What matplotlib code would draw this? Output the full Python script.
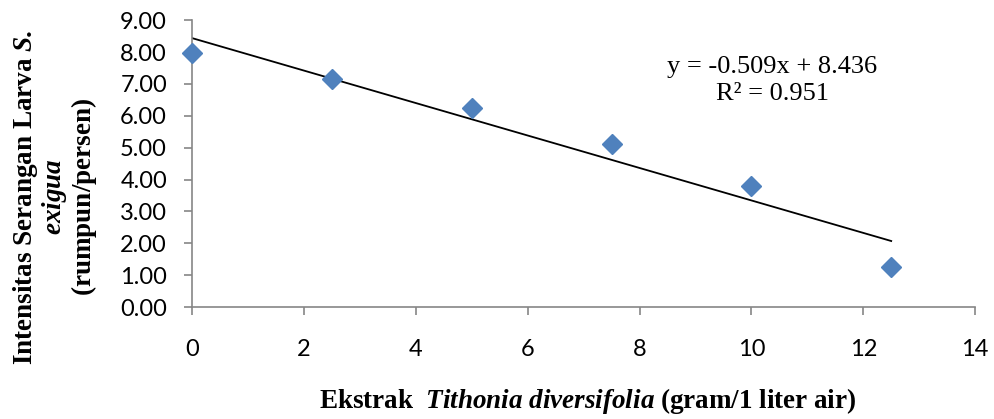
import numpy as np
import matplotlib.pyplot as plt

# Data
ekstrak = [0, 2.5, 5, 7.5, 10, 12.5]
intensitas = [7.96, 7.14, 6.24, 5.11, 3.81, 1.27]
slope = -0.509
intercept = 8.436
r2 = 0.951

plt.rcParams["mathtext.fontset"] = "custom"
plt.rcParams["mathtext.rm"] = "Liberation Serif"
plt.rcParams["mathtext.bf"] = "Liberation Serif:bold"
plt.rcParams["mathtext.it"] = "Liberation Serif:italic"
plt.rcParams["mathtext.bfit"] = "Liberation Serif:bold:italic"

fig = plt.figure(figsize=(9.95, 4.19), dpi=100)
ax = fig.add_axes([0.193, 0.267, 0.787, 0.685])

ax.plot(ekstrak, intensitas, linestyle="none", marker="D", markersize=10,
        color="#4F81BD", zorder=3, clip_on=False)

# Linear trendline
xt = np.array([min(ekstrak), max(ekstrak)])
ax.plot(xt, slope * xt + intercept, color="black", linewidth=1.3, zorder=2)

ax.set_xlim(0, 14)
ax.set_ylim(0, 9)
ax.set_xticks(range(0, 15, 2))
ax.set_yticks(np.arange(0, 9.5, 1))
ax.set_yticklabels([f"{v:.2f}" for v in np.arange(0, 9.5, 1)])

for side in ["top", "right"]:
    ax.spines[side].set_visible(False)
for side in ["left", "bottom"]:
    ax.spines[side].set_color("#868686")
    ax.spines[side].set_linewidth(1.2)
ax.tick_params(axis="both", colors="#868686", length=6, width=1.2,
               labelcolor="black", labelsize=17)
ax.tick_params(axis="x", pad=17)
ax.tick_params(axis="y", pad=12)
for lbl in ax.get_xticklabels() + ax.get_yticklabels():
    lbl.set_fontfamily("Lato")

ax.text(10.37, 7.12, f"y = {slope}x + {intercept}\nR² = {r2}",
        ha="center", va="center", fontsize=19, family="Liberation Serif",
        linespacing=1.3)

fig.text(0.055, 0.53,
         r"$\mathbf{Intensitas\ Serangan\ Larva\ }\mathbfit{S.}$" "\n"
         r"$\mathbfit{exigua}$" "\n"
         r"$\mathbf{(rumpun/persen)}$",
         rotation=90, ha="center", va="center", fontsize=19.5,
         linespacing=1.0, multialignment="center")

fig.text(0.591, 0.042,
         r"$\mathbf{Ekstrak\ \ }\mathbfit{Tithonia\ diversifolia\ }\mathbf{(gram/1\ liter\ air)}$",
         ha="center", va="center", fontsize=19.5)

fig.savefig("out.png", dpi=100)
